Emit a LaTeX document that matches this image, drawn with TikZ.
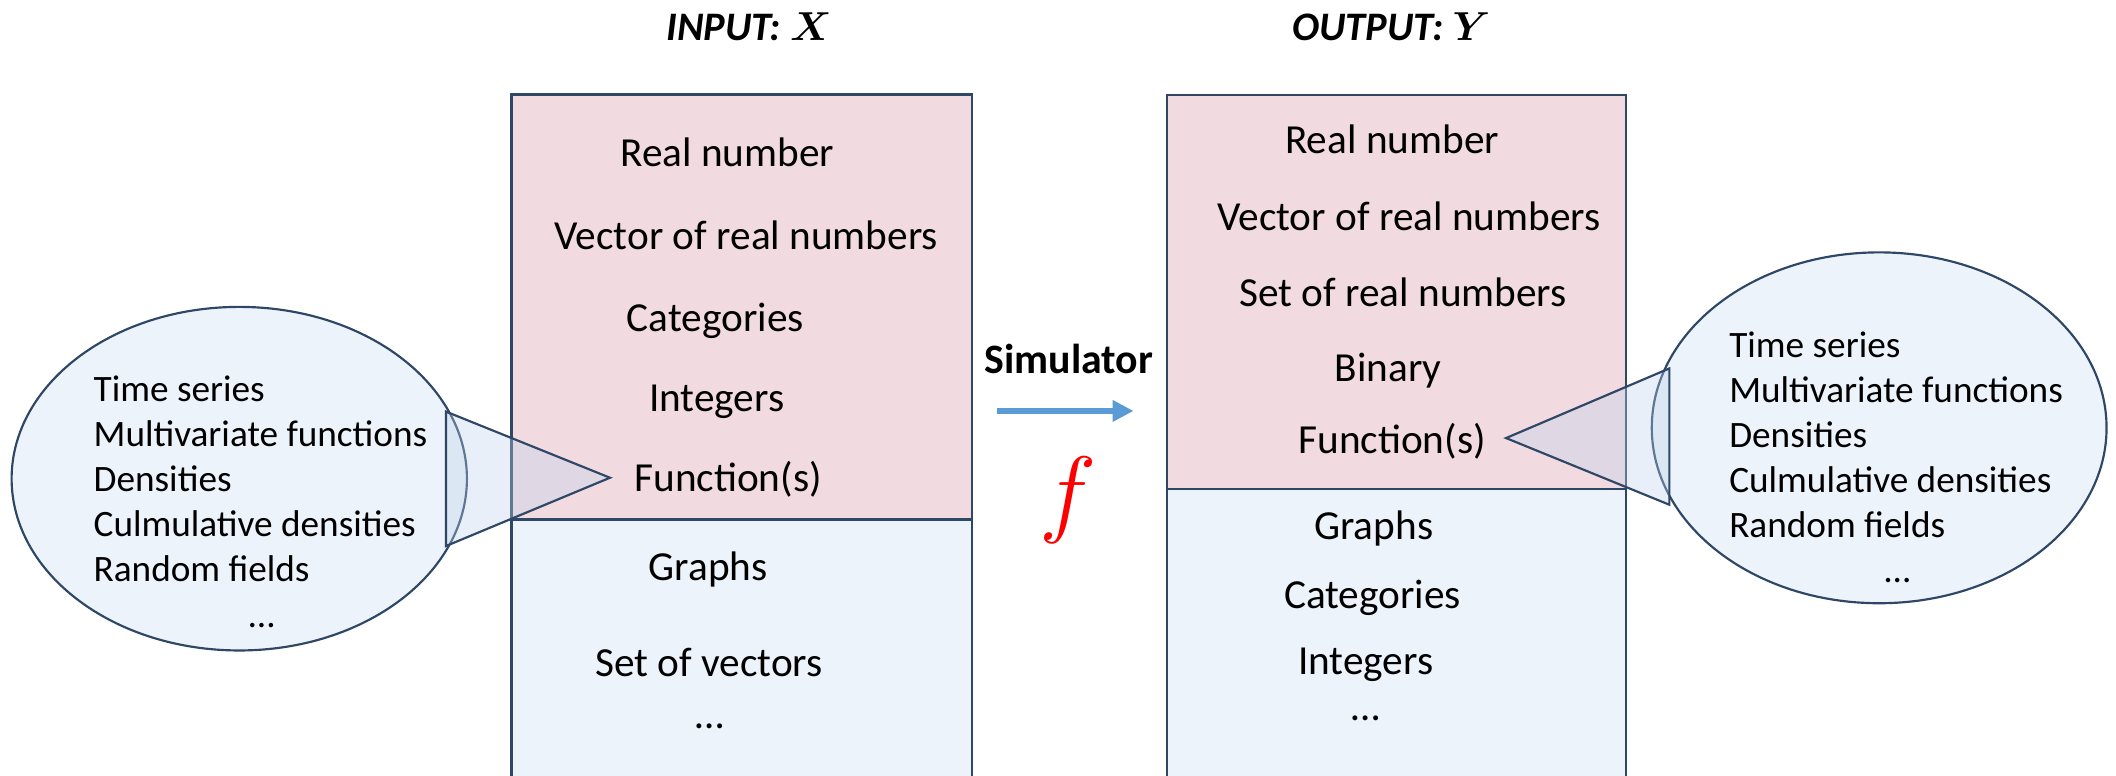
\RequirePackage{fix-cm}
\documentclass[tikz,border=0pt]{standalone}
\usepackage{fontspec}
\setmainfont{Carlito}
\usetikzlibrary{arrows.meta,shapes.geometric}

\definecolor{boxline}{HTML}{2E4766}
\definecolor{pinkfill}{HTML}{F1DBE0}
\definecolor{bluefill}{HTML}{EDF3FA}
\definecolor{calloutfill}{RGB}{190,210,235}
\definecolor{arrowblue}{HTML}{5B9BD5}

\begin{document}
\begin{tikzpicture}[x=0.5pt,y=-0.5pt,
  frame/.style={draw=boxline,line width=0.8pt},
  item/.style={anchor=base,inner sep=0pt,font=\fontsize{15.3}{18}\selectfont},
  bubitem/.style={anchor=base west,inner sep=0pt,font=\fontsize{13.8}{16}\selectfont},
  bubdots/.style={anchor=base,inner sep=0pt,font=\fontsize{13.8}{16}\selectfont},
  bubble/.style={ellipse,draw=boxline,line width=0.8pt,fill=bluefill,inner sep=0pt,outer sep=0pt},
  callout/.style={draw=boxline,line width=0.8pt,fill=calloutfill,fill opacity=0.35,line join=miter},
  heading/.style={anchor=base,inner sep=0pt,font=\fontsize{15}{18}\selectfont\bfseries\itshape\boldmath},
  simarrow/.style={draw=arrowblue,line width=2.2pt,-{Triangle[length=7.8pt,width=7.6pt]}},
]
\useasboundingbox (0,0) rectangle (1568,575);
\clip (0,0) rectangle (1568,575);

% ---- input box ----
\fill[pinkfill] (379,70) rectangle (720,385);
\fill[bluefill] (379,385) rectangle (720,590);
\draw[frame] (379,590) -- (379,70) -- (720,70) -- (720,590);
\draw[frame] (379,385) -- (720,385);

% ---- output box ----
\fill[pinkfill] (865,70.4) rectangle (1205,362.5);
\fill[bluefill] (865,362.5) rectangle (1205,590);
\draw[frame] (865,590) -- (865,70.4) -- (1205,70.4) -- (1205,590);
\draw[frame] (865,362.5) -- (1205,362.5);

% ---- headings ----
\node[heading] (inhead) at (555,30) {INPUT: $X$};
\node[heading] (outhead) at (1031,30) {OUTPUT: $Y$};

% ---- input items ----
\node[item] (in1) at (539,123) {Real number};
\node[item] (in2) at (553,185) {Vector of real numbers};
\node[item] (in3) at (530,245.8) {Categories};
\node[item] (in4) at (531,305) {Integers};
\node[item] (in5) at (539.6,364) {Function(s)};
\node[item] (in6) at (524.8,430) {Graphs};
\node[item] (in7) at (525.4,501) {Set of vectors};
\node[item] (in8) at (526,540) {…};

% ---- output items ----
\node[item] (out1) at (1031.6,113.6) {Real number};
\node[item] (out2) at (1044,170.5) {Vector of real numbers};
\node[item] (out3) at (1039.7,227) {Set of real numbers};
\node[item] (out4) at (1028.6,283) {Binary};
\node[item] (out5) at (1031.6,336) {Function(s)};
\node[item] (out6) at (1018,400) {Graphs};
\node[item] (out7) at (1017,450.7) {Categories};
\node[item] (out8) at (1012,500) {Integers};
\node[item] (out9) at (1012,534) {…};

% ---- simulator ----
\node[anchor=base,inner sep=0pt,font=\fontsize{15.5}{18}\selectfont\bfseries] (sim) at (792,277) {Simulator};
\coordinate (simA) at (739,304.5);
\coordinate (simB) at (840,304.5);
\draw[simarrow] (simA) -- (simB);
\node[inner sep=0pt,text=red,font=\fontsize{36}{42}\selectfont] (fsym) at (791.5,370.5) {$f$};

% ---- bubbles ----
\node[bubble,minimum width=168.7pt,minimum height=127.3pt] (inbub) at (177.3,354.7) {};
\node[bubble,minimum width=168.5pt,minimum height=130pt] (outbub) at (1392.5,317) {};

\foreach \t [count=\i] in {Time series,Multivariate functions,Densities,Culmulative densities,Random fields}{
  \node[bubitem] (inb\i) at (69,{297.6+33.4*(\i-1)}) {\t};
  \node[bubitem] (outb\i) at (1281,{265+33.4*(\i-1)}) {\t};
}
\node[bubdots] (inbdots) at (194,465) {…};
\node[bubdots] (outbdots) at (1406,432) {…};

% ---- callouts ----
\coordinate (lcA) at (330.5,305);
\coordinate (lcB) at (330.5,404.6);
\coordinate (lcT) at (452,354);
\draw[callout] (lcA) -- (lcT) -- (lcB) -- cycle;
\coordinate (rcA) at (1237,273);
\coordinate (rcB) at (1237,374);
\coordinate (rcT) at (1116,324.6);
\draw[callout] (rcA) -- (rcT) -- (rcB) -- cycle;
\end{tikzpicture}
\end{document}
